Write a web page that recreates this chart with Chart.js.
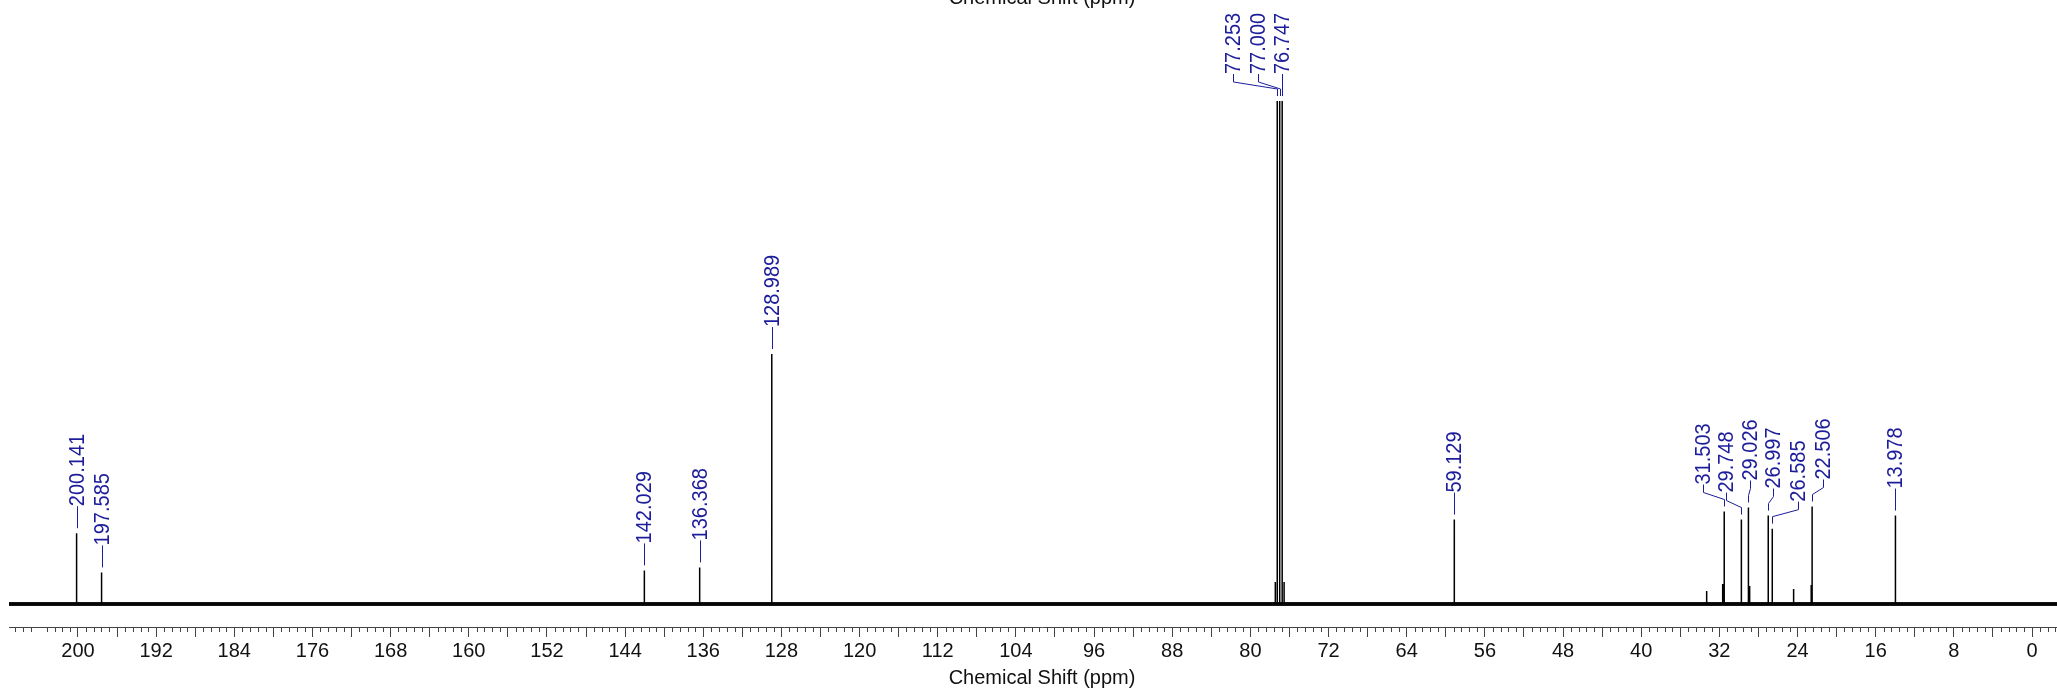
<!DOCTYPE html>
<html>
<head>
<meta charset="utf-8">
<script src="https://cdn.jsdelivr.net/npm/chart.js@4.4.0/dist/chart.umd.min.js"></script>
<style>
html, body { margin: 0; padding: 0; background: #fff; overflow: hidden; width: 2057px; height: 691px; }
#wrap { position: absolute; left: 0; top: -14px; width: 2075px; height: 705px; }
</style>
</head>
<body>
<div id="wrap"><canvas id="nmrChart" width="2075" height="705"></canvas></div>
<script>
// labelled peaks (ppm) and their heights, in % of the clipped CDCl3 lines
var peakPpm    = [200.141, 197.585, 142.029, 136.368, 128.989, 77.253, 77.000, 76.747, 59.129, 31.503, 29.748, 29.026, 26.997, 26.585, 22.506, 13.978];
var peakHeight = [14.1, 6.3, 6.7, 7.3, 49.7, 100, 100, 100, 16.8, 18.4, 16.8, 19.2, 17.6, 15.0, 19.4, 17.6];
// label column for each peak (ppm) - crowded ones are spread out
var labelPpm   = [200.141, 197.585, 142.029, 136.368, 128.989, 81.78, 79.22, 76.747, 59.129, 33.67, 31.32, 28.86, 26.51, 23.95, 21.39, 13.978];
// small unlabelled peaks / shoulders
var minorPpm    = [77.45, 76.55, 33.3, 31.66, 28.9, 24.4, 22.6];
var minorHeight = [4.4, 4.4, 2.6, 4.0, 3.6, 3.0, 3.8];
// baseline
var baselinePpm = [207.06, -4.4];
var baselineVal = [0, 0];

var xMin = -4.4, xMax = 207.06;
var fontFam = '"Liberation Sans", Arial, sans-serif';
var labelColor = '#1d1d9b';
var tickGray = '#444';

// stick spectrum built from the peak lists
var allPeaks = [];
for (var i = 0; i < peakPpm.length; i++) allPeaks.push([peakPpm[i], peakHeight[i]]);
for (var j = 0; j < minorPpm.length; j++) allPeaks.push([minorPpm[j], minorHeight[j]]);
allPeaks.sort(function(a, b){ return b[0] - a[0]; });
var specPoints = [{x: xMax, y: 0}];
allPeaks.forEach(function(p){
    specPoints.push({x: p[0], y: 0});
    specPoints.push({x: p[0], y: p[1]});
    specPoints.push({x: p[0], y: 0});
});
specPoints.push({x: xMin, y: 0});

var basePoints = baselinePpm.map(function(v, k){ return {x: v, y: baselineVal[k]}; });

var peakLabels = {
    id: 'peakLabels',
    afterDatasetsDraw: function(chart){
        var ctx = chart.ctx, xs = chart.scales.x, ys = chart.scales.y;
        ctx.save();
        ctx.strokeStyle = labelColor;
        ctx.fillStyle = labelColor;
        ctx.lineWidth = 1;
        ctx.font = '20px ' + fontFam;
        for (var i = 0; i < peakPpm.length; i++) {
            var px = Math.round(xs.getPixelForValue(peakPpm[i])) + 0.5;
            var col = Math.round(xs.getPixelForValue(labelPpm[i])) + 0.5;
            var top = ys.getPixelForValue(peakHeight[i]);
            var textBase = top - 27;
            ctx.beginPath();
            ctx.moveTo(col, textBase);
            if (Math.abs(col - px) > 1.5) {
                ctx.lineTo(col, top - 19);
                ctx.lineTo(px, top - 12);
            }
            ctx.lineTo(px, top - 5);
            ctx.stroke();
            ctx.save();
            ctx.translate(col, textBase);
            ctx.rotate(-Math.PI / 2);
            ctx.scale(1, 1.1);
            ctx.textAlign = 'left';
            ctx.textBaseline = 'middle';
            ctx.fillText(peakPpm[i].toFixed(3), 0, 0);
            ctx.restore();
        }
        ctx.restore();
    }
};

// 0.8 ppm minor ticks between the 4 ppm ones
var minorTicks = {
    id: 'minorTicks',
    afterDraw: function(chart){
        var xs = chart.scales.x, ctx = chart.ctx, y0 = chart.chartArea.bottom;
        ctx.save();
        ctx.strokeStyle = tickGray;
        ctx.lineWidth = 1;
        ctx.beginPath();
        for (var k = Math.ceil(xMin / 0.8); k <= Math.floor(xMax / 0.8); k++) {
            if (k % 5 === 0) continue;
            var x = Math.round(xs.getPixelForValue(k * 0.8)) + 0.5;
            ctx.moveTo(x, y0);
            ctx.lineTo(x, y0 + 5);
        }
        ctx.stroke();
        ctx.restore();
    }
};

var ctx = document.getElementById('nmrChart').getContext('2d');
var nmrChart = new Chart(ctx, {
    type: 'line',
    data: {
        datasets: [{
            label: 'spectrum',
            data: specPoints,
            borderColor: '#000',
            borderWidth: 1.5,
            borderJoinStyle: 'bevel',
            pointRadius: 0,
            tension: 0,
            fill: false
        }, {
            label: 'baseline',
            data: basePoints,
            borderColor: '#161616',
            borderWidth: 4,
            pointRadius: 0,
            fill: false
        }]
    },
    options: {
        responsive: false,
        animation: false,
        devicePixelRatio: 1,
        parsing: false,
        layout: { padding: { left: 9, right: 0, top: 0, bottom: 0 } },
        plugins: {
            legend: { display: false },
            tooltip: { enabled: false },
            title: {
                display: true,
                text: 'Chemical Shift (ppm)',
                color: '#111',
                font: { size: 20, family: fontFam, weight: 'normal' },
                padding: { top: 0, bottom: 91 }
            }
        },
        scales: {
            x: {
                type: 'linear',
                reverse: true,
                min: xMin,
                max: xMax,
                afterBuildTicks: function(axis){
                    axis.ticks = axis.ticks.filter(function(t){ return Math.abs(t.value % 4) < 1e-6; });
                },
                ticks: {
                    stepSize: 4,
                    maxTicksLimit: 1000,
                    autoSkip: false,
                    maxRotation: 0,
                    padding: 2,
                    color: '#111',
                    font: { size: 20, family: fontFam },
                    callback: function(v){ return (Math.abs(v % 8) < 1e-6) ? String(Math.round(v)) : ''; }
                },
                grid: { drawOnChartArea: false, drawTicks: true, tickLength: 10, tickColor: tickGray },
                border: { display: true, color: tickGray },
                title: {
                    display: true,
                    text: 'Chemical Shift (ppm)',
                    color: '#111',
                    font: { size: 20, family: fontFam },
                    padding: { top: 1, bottom: 1 }
                }
            },
            y: {
                type: 'linear',
                display: false,
                min: -4.55,
                max: 100
            }
        }
    },
    plugins: [peakLabels, minorTicks]
});
</script>
</body>
</html>
